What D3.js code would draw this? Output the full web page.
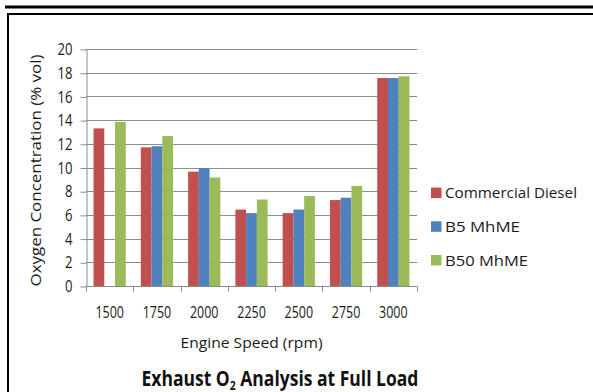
<!DOCTYPE html>
<html>
<head>
<meta charset="utf-8">
<script src="https://cdn.jsdelivr.net/npm/d3@7"></script>
<style>
  html, body { margin: 0; padding: 0; background: #fff; }
  svg { display: block; }
</style>
</head>
<body>
<div id="chart"></div>
<script>
// Exhaust O2 at full load — grouped bars, three fuels x seven engine speeds
const SPEEDS = ["1500", "1750", "2000", "2250", "2500", "2750", "3000"];
const SERIES = ["Commercial Diesel", "B5 MhME", "B50 MhME"];
const DIESEL = [13.3, 11.7, 9.65, 6.45, 6.15, 7.25, 17.55];
const B5 = [0, 11.8, 9.95, 6.15, 6.45, 7.45, 17.55];
const B50 = [13.85, 12.65, 9.15, 7.3, 7.6, 8.45, 17.7];
const Y_TICKS = [0, 2, 4, 6, 8, 10, 12, 14, 16, 18, 20];
const COLORS = ["#c0504d", "#4f81bd", "#9bbb59"];

const W = 593, H = 392;
const ML = 86, MR = 417, TOP = 49, BOT = 286;
const FONT = "'Open Sans', 'DejaVu Sans', sans-serif";
const INK = "#1a1a1a", GRID = "#8c8c8c";

// narrow Open Sans down to the Calibri widths of the original
const fit = (sel, w) => sel.attr("textLength", w).attr("lengthAdjust", "spacingAndGlyphs");

const svg = d3.select("#chart").append("svg")
  .attr("width", W).attr("height", H).attr("viewBox", `0 0 ${W} ${H}`);

// page frame: heavy rule at top + box round the figure
svg.append("line").attr("x1", 5).attr("x2", W).attr("y1", 7).attr("y2", 7)
  .attr("stroke", "#000").attr("stroke-width", 3);
svg.append("rect").attr("x", 8).attr("y", 14).attr("width", W + 10).attr("height", H)
  .attr("fill", "none").attr("stroke", "#000").attr("stroke-width", 2);

const y = d3.scaleLinear().domain([0, 20]).range([BOT, TOP]);
const x0 = d3.scaleBand().domain(SPEEDS).range([ML, MR]).paddingInner(0).paddingOuter(0);
const x1 = d3.scaleBand().domain(SERIES).range([0, x0.bandwidth()]).paddingInner(0).paddingOuter(0.7);

// grid
svg.append("g").selectAll("line").data(Y_TICKS.filter(v => v > 0)).join("line")
  .attr("x1", ML).attr("x2", MR)
  .attr("y1", v => Math.round(y(v)) + 0.5).attr("y2", v => Math.round(y(v)) + 0.5)
  .attr("stroke", GRID).attr("stroke-width", 1);

// bars
const rows = SPEEDS.map((s, i) => ({ s, vals: [DIESEL[i], B5[i], B50[i]] }));
svg.append("g").selectAll("g").data(rows).join("g")
  .attr("transform", d => `translate(${x0(d.s)},0)`)
  .selectAll("rect").data(d => d.vals.map((v, k) => ({ v, k }))).join("rect")
  .attr("x", d => x1(SERIES[d.k])).attr("width", x1.bandwidth())
  .attr("y", d => y(d.v)).attr("height", d => BOT - y(d.v))
  .attr("fill", d => COLORS[d.k]);

// y axis
const ya = svg.append("g").attr("transform", `translate(${ML + 0.5},0.5)`)
  .call(d3.axisLeft(y).tickValues(Y_TICKS).tickSize(6).tickPadding(8).tickSizeOuter(0));
ya.select(".domain").attr("stroke", GRID);
ya.selectAll(".tick line").attr("stroke", GRID);
ya.selectAll("text").attr("font-family", FONT).attr("font-size", 16).attr("fill", INK)
  .each(function (d) { fit(d3.select(this), String(d).length * 7.5); });

// x axis: ticks on band edges, labels centred in bands
const xa = svg.append("g").attr("transform", `translate(0,${Math.round(BOT) + 0.5})`);
xa.append("line").attr("x1", ML).attr("x2", MR).attr("stroke", GRID);
xa.selectAll("line.tk").data(SPEEDS.concat(["end"])).join("line").attr("class", "tk")
  .attr("x1", (d, i) => Math.round(ML + i * x0.bandwidth()) + 0.5)
  .attr("x2", (d, i) => Math.round(ML + i * x0.bandwidth()) + 0.5)
  .attr("y1", 0).attr("y2", 5).attr("stroke", GRID);
xa.selectAll("text").data(SPEEDS).join("text")
  .attr("x", d => x0(d) + x0.bandwidth() / 2).attr("y", 31.5)
  .attr("text-anchor", "middle")
  .attr("font-family", FONT).attr("font-size", 16).attr("fill", INK)
  .text(d => d)
  .call(fit, 28.5);

// axis titles
svg.append("text").attr("x", (ML + MR) / 2).attr("y", 348)
  .attr("text-anchor", "middle").attr("font-family", FONT).attr("font-size", 15)
  .attr("fill", INK).text("Engine Speed (rpm)").call(fit, 142);
svg.append("text").attr("transform", `translate(41,${(TOP + BOT) / 2 + 3}) rotate(-90)`)
  .attr("text-anchor", "middle").attr("font-family", FONT).attr("font-size", 15)
  .attr("fill", INK).text("Oxygen Concentration (% vol)").call(fit, 232);

// legend
const LEG_W = [132, 75, 83];
const lg = svg.append("g").attr("transform", "translate(431,0)");
SERIES.forEach((s, i) => {
  const cy = 192.8 + i * 33.7;
  lg.append("rect").attr("x", 0).attr("y", cy - 5.2).attr("width", 10.5).attr("height", 10.5)
    .attr("fill", COLORS[i]);
  lg.append("text").attr("x", 14).attr("y", cy + 5.5)
    .attr("font-family", FONT).attr("font-size", 15).attr("fill", INK).text(s)
    .call(fit, LEG_W[i]);
});

// chart title with subscript, squeezed to the original's width
const tg = svg.append("g");
const t = tg.append("text").attr("x", 0).attr("y", 0)
  .attr("font-family", FONT).attr("font-size", 21).attr("font-weight", 700).attr("fill", "#111");
t.append("tspan").text("Exhaust O");
t.append("tspan").attr("font-size", 12.5).attr("dy", 4).text("2");
t.append("tspan").attr("dy", -4).text(" Analysis at Full Load");
const tb = t.node().getBBox();
const sx = 277 / tb.width;
tg.attr("transform", `translate(${280 - 277 / 2},386) scale(${sx},1) translate(${-tb.x},0)`);
</script>
</body>
</html>
